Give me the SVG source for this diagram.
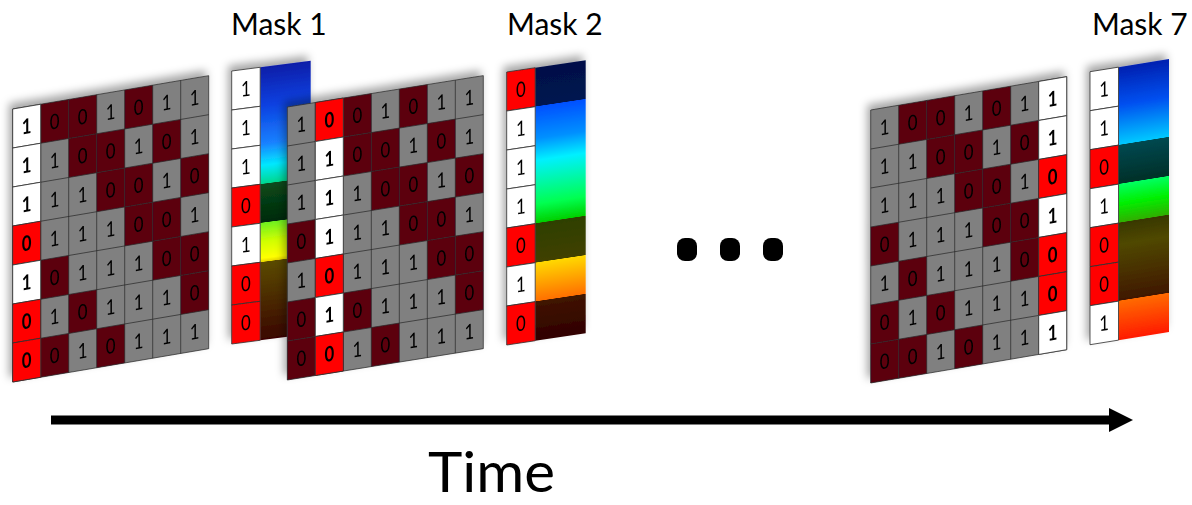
<svg xmlns="http://www.w3.org/2000/svg" xmlns:xlink="http://www.w3.org/1999/xlink" width="1192" height="505" viewBox="0 0 1192 505">
<style>
.bg{fill:#808080}
.d{fill:#5b0010}
.ln{fill:none;stroke:#2a2a2a;stroke-width:0.7}
.w{fill:#ffffff;stroke:#333;stroke-width:0.8}
.r{fill:#ff0000;stroke:#333;stroke-width:0.8}
.t{font-family:Lato,"Liberation Sans",sans-serif;font-size:21px;fill:#000;text-anchor:middle}
.b{font-weight:700}
.lbl{font-family:Lato,"Open Sans","Liberation Sans",sans-serif;font-size:30px;fill:#000}
.time{font-family:Lato,"Open Sans","Liberation Sans",sans-serif;font-size:56px;fill:#000}
.dot{fill:#000}
.axis{stroke:#000;stroke-width:9;fill:none}
</style>
<defs>
<filter id="sh" x="-20%" y="-20%" width="140%" height="140%">
<feDropShadow dx="-3" dy="-5" stdDeviation="4" flood-color="#000" flood-opacity="0.35"/>
</filter>
<g id="cells">
<rect class="bg" x="0" y="0" width="196" height="273"/>
<rect class="d" x="28" y="0" width="28" height="39"/><rect class="d" x="56" y="0" width="28" height="39"/><rect class="d" x="112" y="0" width="28" height="39"/>
<rect class="d" x="56" y="39" width="28" height="39"/><rect class="d" x="84" y="39" width="28" height="39"/><rect class="d" x="140" y="39" width="28" height="39"/>
<rect class="d" x="84" y="78" width="28" height="39"/><rect class="d" x="112" y="78" width="28" height="39"/><rect class="d" x="168" y="78" width="28" height="39"/>
<rect class="d" x="0" y="117" width="28" height="39"/><rect class="d" x="112" y="117" width="28" height="39"/><rect class="d" x="140" y="117" width="28" height="39"/>
<rect class="d" x="28" y="156" width="28" height="39"/><rect class="d" x="140" y="156" width="28" height="39"/><rect class="d" x="168" y="156" width="28" height="39"/>
<rect class="d" x="0" y="195" width="28" height="39"/><rect class="d" x="56" y="195" width="28" height="39"/><rect class="d" x="168" y="195" width="28" height="39"/>
<rect class="d" x="0" y="234" width="28" height="39"/><rect class="d" x="28" y="234" width="28" height="39"/><rect class="d" x="84" y="234" width="28" height="39"/>
<path class="ln" d="M0 0H196V273H0Z M28 0V273 M56 0V273 M84 0V273 M112 0V273 M140 0V273 M168 0V273 M0 39H196 M0 78H196 M0 117H196 M0 156H196 M0 195H196 M0 234H196"/>
</g>
<linearGradient id="gm1" gradientUnits="userSpaceOnUse" x1="0" y1="0" x2="0" y2="273">
<stop offset="0" stop-color="#0a1ea8"/>
<stop offset="0.14" stop-color="#0a40e0"/>
<stop offset="0.28" stop-color="#1a80ff"/>
<stop offset="0.36" stop-color="#00e8ff"/>
<stop offset="0.427" stop-color="#00d890"/>
<stop offset="0.429" stop-color="#0a4a1c"/>
<stop offset="0.569" stop-color="#002a08"/>
<stop offset="0.571" stop-color="#70f020"/>
<stop offset="0.64" stop-color="#d0ff00"/>
<stop offset="0.70" stop-color="#ffff00"/>
<stop offset="0.713" stop-color="#e8d800"/>
<stop offset="0.715" stop-color="#5a4a00"/>
<stop offset="0.86" stop-color="#4a2800"/>
<stop offset="1" stop-color="#3a0500"/>
</linearGradient>
<linearGradient id="gm2" gradientUnits="userSpaceOnUse" x1="0" y1="0" x2="0" y2="273">
<stop offset="0" stop-color="#001048"/>
<stop offset="0.141" stop-color="#001450"/>
<stop offset="0.143" stop-color="#0050ff"/>
<stop offset="0.26" stop-color="#0090ff"/>
<stop offset="0.34" stop-color="#00f0ff"/>
<stop offset="0.50" stop-color="#00ff50"/>
<stop offset="0.569" stop-color="#00d000"/>
<stop offset="0.571" stop-color="#2e4000"/>
<stop offset="0.713" stop-color="#404000"/>
<stop offset="0.715" stop-color="#ffd800"/>
<stop offset="0.855" stop-color="#ff7000"/>
<stop offset="0.857" stop-color="#401400"/>
<stop offset="1" stop-color="#300000"/>
</linearGradient>
<linearGradient id="gm7" gradientUnits="userSpaceOnUse" x1="0" y1="0" x2="0" y2="273">
<stop offset="0" stop-color="#0020b0"/>
<stop offset="0.14" stop-color="#0050f0"/>
<stop offset="0.284" stop-color="#00c8ff"/>
<stop offset="0.286" stop-color="#004850"/>
<stop offset="0.427" stop-color="#003028"/>
<stop offset="0.429" stop-color="#00ff60"/>
<stop offset="0.50" stop-color="#00f000"/>
<stop offset="0.569" stop-color="#30b000"/>
<stop offset="0.571" stop-color="#383800"/>
<stop offset="0.65" stop-color="#504800"/>
<stop offset="0.855" stop-color="#401800"/>
<stop offset="0.857" stop-color="#ff6a00"/>
<stop offset="1" stop-color="#ff1a00"/>
</linearGradient>
</defs>

<g id="label-mask1"><text class="lbl" x="231" y="35">Mask 1</text></g>
<g id="label-mask2"><text class="lbl" x="507" y="35">Mask 2</text></g>
<g id="label-mask7"><text class="lbl" x="1092" y="35">Mask 7</text></g>

<g id="grid1" filter="url(#sh)">
<g transform="matrix(1,-0.17,0,1,12.7,109)">
<use xlink:href="#cells" href="#cells"/>
<rect class="w" x="0" y="0" width="28" height="39"/><rect class="w" x="0" y="39" width="28" height="39"/><rect class="w" x="0" y="78" width="28" height="39"/><rect class="r" x="0" y="117" width="28" height="39"/><rect class="w" x="0" y="156" width="28" height="39"/><rect class="r" x="0" y="195" width="28" height="39"/><rect class="r" x="0" y="234" width="28" height="39"/>
<g transform="scale(0.8,1)">
<text class="t" x="17.5 52.5 87.5 122.5 157.5 192.5 227.5" y="27"><tspan class="b">1</tspan>001011</text>
<text class="t" x="17.5 52.5 87.5 122.5 157.5 192.5 227.5" y="66"><tspan class="b">1</tspan>100101</text>
<text class="t" x="17.5 52.5 87.5 122.5 157.5 192.5 227.5" y="105"><tspan class="b">1</tspan>110010</text>
<text class="t" x="17.5 52.5 87.5 122.5 157.5 192.5 227.5" y="144"><tspan class="b">0</tspan>111001</text>
<text class="t" x="17.5 52.5 87.5 122.5 157.5 192.5 227.5" y="183"><tspan class="b">1</tspan>011100</text>
<text class="t" x="17.5 52.5 87.5 122.5 157.5 192.5 227.5" y="222"><tspan class="b">0</tspan>101110</text>
<text class="t" x="17.5 52.5 87.5 122.5 157.5 192.5 227.5" y="261"><tspan class="b">0</tspan>010111</text>
</g>
</g>
</g>

<g id="mask1" filter="url(#sh)">
<g transform="matrix(1,-0.13,0,1,231.7,71)">
<rect x="28.5" y="0" width="50.5" height="273" fill="url(#gm1)"/>
<rect class="w" x="0" y="0" width="28.5" height="39"/><rect class="w" x="0" y="39" width="28.5" height="39"/><rect class="w" x="0" y="78" width="28.5" height="39"/><rect class="r" x="0" y="117" width="28.5" height="39"/><rect class="w" x="0" y="156" width="28.5" height="39"/><rect class="r" x="0" y="195" width="28.5" height="39"/><rect class="r" x="0" y="234" width="28.5" height="39"/>
<g transform="scale(0.8,1)">
<text class="t" x="17.8" y="27">1</text><text class="t" x="17.8" y="66">1</text><text class="t" x="17.8" y="105">1</text><text class="t" x="17.8" y="144">0</text><text class="t" x="17.8" y="183">1</text><text class="t" x="17.8" y="222">0</text><text class="t" x="17.8" y="261">0</text>
</g>
</g>
</g>

<g id="grid2" filter="url(#sh)">
<g transform="matrix(1,-0.16,0,1,287.3,107)">
<use xlink:href="#cells" href="#cells"/>
<rect class="r" x="28" y="0" width="28" height="39"/><rect class="w" x="28" y="39" width="28" height="39"/><rect class="w" x="28" y="78" width="28" height="39"/><rect class="w" x="28" y="117" width="28" height="39"/><rect class="r" x="28" y="156" width="28" height="39"/><rect class="w" x="28" y="195" width="28" height="39"/><rect class="r" x="28" y="234" width="28" height="39"/>
<g transform="scale(0.8,1)">
<text class="t" x="17.5 52.5 87.5 122.5 157.5 192.5 227.5" y="27">1<tspan class="b">0</tspan>01011</text>
<text class="t" x="17.5 52.5 87.5 122.5 157.5 192.5 227.5" y="66">1<tspan class="b">1</tspan>00101</text>
<text class="t" x="17.5 52.5 87.5 122.5 157.5 192.5 227.5" y="105">1<tspan class="b">1</tspan>10010</text>
<text class="t" x="17.5 52.5 87.5 122.5 157.5 192.5 227.5" y="144">0<tspan class="b">1</tspan>11001</text>
<text class="t" x="17.5 52.5 87.5 122.5 157.5 192.5 227.5" y="183">1<tspan class="b">0</tspan>11100</text>
<text class="t" x="17.5 52.5 87.5 122.5 157.5 192.5 227.5" y="222">0<tspan class="b">1</tspan>01110</text>
<text class="t" x="17.5 52.5 87.5 122.5 157.5 192.5 227.5" y="261">0<tspan class="b">0</tspan>10111</text>
</g>
</g>
</g>

<g id="mask2" filter="url(#sh)">
<g transform="matrix(1,-0.15,0,1,506.7,72)">
<rect x="28.5" y="0" width="50.5" height="273" fill="url(#gm2)"/>
<rect class="r" x="0" y="0" width="28.5" height="39"/><rect class="w" x="0" y="39" width="28.5" height="39"/><rect class="w" x="0" y="78" width="28.5" height="39"/><rect class="w" x="0" y="117" width="28.5" height="39"/><rect class="r" x="0" y="156" width="28.5" height="39"/><rect class="w" x="0" y="195" width="28.5" height="39"/><rect class="r" x="0" y="234" width="28.5" height="39"/>
<g transform="scale(0.8,1)">
<text class="t" x="17.8" y="27">0</text><text class="t" x="17.8" y="66">1</text><text class="t" x="17.8" y="105">1</text><text class="t" x="17.8" y="144">1</text><text class="t" x="17.8" y="183">0</text><text class="t" x="17.8" y="222">1</text><text class="t" x="17.8" y="261">0</text>
</g>
</g>
</g>

<g id="ellipsis">
<rect class="dot" x="677" y="238" width="20" height="23" rx="8"/>
<rect class="dot" x="720" y="238" width="20" height="23" rx="8"/>
<rect class="dot" x="763" y="238" width="20" height="23" rx="8"/>
</g>

<g id="grid3" filter="url(#sh)">
<g transform="matrix(1,-0.17,0,1,870.7,110)">
<use xlink:href="#cells" href="#cells"/>
<rect class="w" x="168" y="0" width="28" height="39"/><rect class="w" x="168" y="39" width="28" height="39"/><rect class="r" x="168" y="78" width="28" height="39"/><rect class="w" x="168" y="117" width="28" height="39"/><rect class="r" x="168" y="156" width="28" height="39"/><rect class="r" x="168" y="195" width="28" height="39"/><rect class="w" x="168" y="234" width="28" height="39"/>
<g transform="scale(0.8,1)">
<text class="t" x="17.5 52.5 87.5 122.5 157.5 192.5 227.5" y="27">100101<tspan class="b">1</tspan></text>
<text class="t" x="17.5 52.5 87.5 122.5 157.5 192.5 227.5" y="66">110010<tspan class="b">1</tspan></text>
<text class="t" x="17.5 52.5 87.5 122.5 157.5 192.5 227.5" y="105">111001<tspan class="b">0</tspan></text>
<text class="t" x="17.5 52.5 87.5 122.5 157.5 192.5 227.5" y="144">011100<tspan class="b">1</tspan></text>
<text class="t" x="17.5 52.5 87.5 122.5 157.5 192.5 227.5" y="183">101110<tspan class="b">0</tspan></text>
<text class="t" x="17.5 52.5 87.5 122.5 157.5 192.5 227.5" y="222">010111<tspan class="b">0</tspan></text>
<text class="t" x="17.5 52.5 87.5 122.5 157.5 192.5 227.5" y="261">001011<tspan class="b">1</tspan></text>
</g>
</g>
</g>

<g id="mask7" filter="url(#sh)">
<g transform="matrix(1,-0.16,0,1,1090,71.7)">
<rect x="28.5" y="0" width="50.5" height="273" fill="url(#gm7)"/>
<rect class="w" x="0" y="0" width="28.5" height="39"/><rect class="w" x="0" y="39" width="28.5" height="39"/><rect class="r" x="0" y="78" width="28.5" height="39"/><rect class="w" x="0" y="117" width="28.5" height="39"/><rect class="r" x="0" y="156" width="28.5" height="39"/><rect class="r" x="0" y="195" width="28.5" height="39"/><rect class="w" x="0" y="234" width="28.5" height="39"/>
<g transform="scale(0.8,1)">
<text class="t" x="17.8" y="27">1</text><text class="t" x="17.8" y="66">1</text><text class="t" x="17.8" y="105">0</text><text class="t" x="17.8" y="144">1</text><text class="t" x="17.8" y="183">0</text><text class="t" x="17.8" y="222">0</text><text class="t" x="17.8" y="261">1</text>
</g>
</g>
</g>

<g id="connectors">
<line class="axis" x1="51" y1="420" x2="1111" y2="420"/>
<polygon points="1109,408 1133,420 1109,432" fill="#000"/>
</g>

<g id="label-time"><text class="time" x="428" y="492" textLength="127" lengthAdjust="spacingAndGlyphs">Time</text></g>
</svg>
